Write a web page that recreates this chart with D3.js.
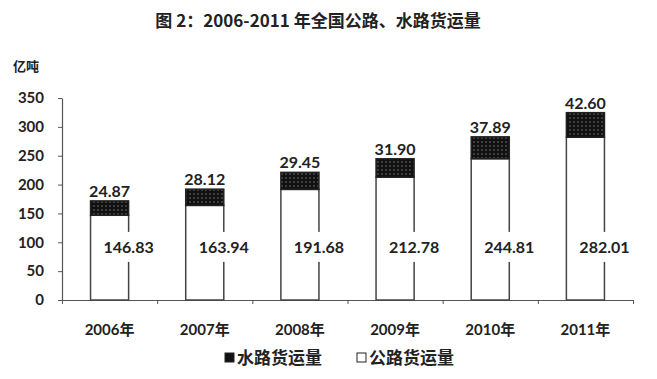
<!DOCTYPE html>
<html>
<head>
<meta charset="utf-8">
<script src="https://cdn.jsdelivr.net/npm/d3@7"></script>
<style>
  body { margin: 0; background: #fff; }
  svg text { fill: #222; }
</style>
</head>
<body>
<svg id="chart" width="657" height="379"></svg>
<script>
const years = ["2006年", "2007年", "2008年", "2009年", "2010年", "2011年"];
const roadFreight = [146.83, 163.94, 191.68, 212.78, 244.81, 282.01];
const waterFreight = [24.87, 28.12, 29.45, 31.90, 37.89, 42.60];
const yTicks = [0, 50, 100, 150, 200, 250, 300, 350];

const numFont = "Lato, 'Liberation Sans', sans-serif";
const cjkFont = "'Noto Sans CJK SC', sans-serif";

const svg = d3.select("#chart");

// dotted black fill for the water segments
const pat = svg.append("defs").append("pattern")
  .attr("id", "dots")
  .attr("width", 4).attr("height", 4)
  .attr("patternUnits", "userSpaceOnUse");
pat.append("rect").attr("width", 4).attr("height", 4).attr("fill", "#111");
pat.append("circle").attr("cx", 2).attr("cy", 2).attr("r", 0.8).attr("fill", "#777");

const x = d3.scaleBand().domain(years).range([62, 633])
  .paddingInner(0.6).paddingOuter(0.3);
const y = d3.scaleLinear().domain([0, 350]).range([300, 98]);

// title
svg.append("text")
  .attr("x", 318).attr("y", 27)
  .attr("text-anchor", "middle")
  .style("font-family", cjkFont)
  .style("font-weight", "bold")
  .style("font-size", "17px")
  .text("图 2：2006-2011 年全国公路、水路货运量");

// unit
svg.append("text")
  .attr("x", 13).attr("y", 71)
  .style("font-family", cjkFont)
  .style("font-weight", "bold")
  .style("font-size", "13px")
  .text("亿吨");

// y axis
const yAxis = svg.append("g")
  .attr("transform", "translate(62,0)")
  .call(d3.axisLeft(y).tickValues(yTicks).tickSize(4).tickPadding(14).tickSizeOuter(0));
yAxis.select(".domain").attr("stroke", "#555").attr("stroke-width", 1.2);
yAxis.selectAll(".tick line").attr("stroke", "#555");
yAxis.selectAll("text")
  .style("font-family", numFont)
  .style("font-weight", "bold")
  .style("font-size", "15px")
  .attr("fill", "#222");

// x axis: ticks on band boundaries, labels at band centres
const step = x.step();
const bounds = d3.range(years.length + 1).map(i => 62 + i * step);
const xEdge = d3.scaleLinear().domain([62, 633]).range([62, 633]);
const xAxis = svg.append("g")
  .attr("transform", "translate(0,300)")
  .call(d3.axisBottom(xEdge).tickValues(bounds).tickFormat("").tickSize(4).tickSizeOuter(0));
xAxis.select(".domain").attr("stroke", "#555").attr("stroke-width", 1.2);
xAxis.selectAll(".tick line").attr("stroke", "#555");

svg.append("g").selectAll("text")
  .data(years)
  .join("text")
  .attr("x", d => x(d) + x.bandwidth() / 2)
  .attr("y", 335)
  .attr("text-anchor", "middle")
  .style("font-family", numFont + ", " + cjkFont)
  .style("font-weight", "bold")
  .style("font-size", "15px")
  .text(d => d);

// bars
const bars = svg.append("g").selectAll("g")
  .data(years.map((yr, i) => ({ yr, road: roadFreight[i], water: waterFreight[i] })))
  .join("g");

bars.append("rect")
  .attr("x", d => x(d.yr))
  .attr("y", d => y(d.road))
  .attr("width", x.bandwidth())
  .attr("height", d => y(0) - y(d.road))
  .attr("fill", "#fff")
  .attr("stroke", "#444")
  .attr("stroke-width", 1.5);

bars.append("rect")
  .attr("x", d => x(d.yr))
  .attr("y", d => y(d.road + d.water))
  .attr("width", x.bandwidth())
  .attr("height", d => y(d.road) - y(d.road + d.water))
  .attr("fill", "url(#dots)")
  .attr("stroke", "#222")
  .attr("stroke-width", 1.5);

// water labels on top
bars.append("text")
  .attr("x", d => x(d.yr) + x.bandwidth() / 2)
  .attr("y", d => y(d.road + d.water) - 4)
  .attr("text-anchor", "middle")
  .style("font-family", numFont)
  .style("font-weight", "bold")
  .style("font-size", "16px")
  .text(d => d.water.toFixed(2));

// road labels sit on the bar's right edge with a white box
const roadLbl = bars.append("g")
  .attr("transform", d => `translate(${x(d.yr) + x.bandwidth()},${y(92)})`);
roadLbl.append("rect")
  .attr("x", -25).attr("y", -15)
  .attr("width", 50).attr("height", 30)
  .attr("fill", "#fff");
roadLbl.append("text")
  .attr("text-anchor", "middle")
  .attr("dy", "0.35em")
  .style("font-family", numFont)
  .style("font-weight", "bold")
  .style("font-size", "16px")
  .text(d => d.road.toFixed(2));

// legend
const legend = [
  { name: "水路货运量", fill: "#111", x: 225 },
  { name: "公路货运量", fill: "#fff", x: 357 }
];
const lg = svg.append("g").selectAll("g")
  .data(legend)
  .join("g")
  .attr("transform", d => `translate(${d.x},358)`);
lg.append("rect")
  .attr("x", 0).attr("y", -5)
  .attr("width", 9).attr("height", 9)
  .attr("fill", d => d.fill)
  .attr("stroke", "#222")
  .attr("stroke-width", 1);
lg.append("text")
  .attr("x", 12)
  .attr("dy", "0.35em")
  .style("font-family", cjkFont)
  .style("font-weight", "bold")
  .style("font-size", "17px")
  .text(d => d.name);
</script>
</body>
</html>
